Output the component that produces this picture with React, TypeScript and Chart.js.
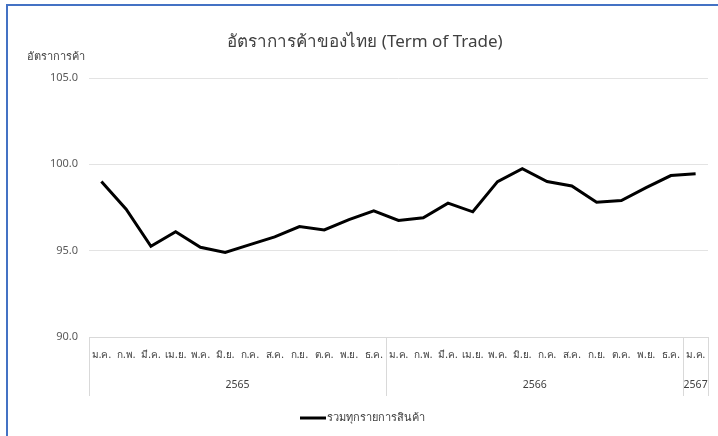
import React, { useEffect, useRef } from "react";
import { Chart, registerables } from "chart.js";

Chart.register(...registerables);

const months = [
  "ม.ค.", "ก.พ.", "มี.ค.", "เม.ย.", "พ.ค.", "มิ.ย.", "ก.ค.", "ส.ค.", "ก.ย.", "ต.ค.", "พ.ย.", "ธ.ค.",
  "ม.ค.", "ก.พ.", "มี.ค.", "เม.ย.", "พ.ค.", "มิ.ย.", "ก.ค.", "ส.ค.", "ก.ย.", "ต.ค.", "พ.ย.", "ธ.ค.",
  "ม.ค.",
];
const years = ["2565", "2566", "2567"];
const yearCounts = [12, 12, 1];
const totOfTrade = [
  99.0, 97.4, 95.25, 96.1, 95.2, 94.9, 95.35, 95.8, 96.4, 96.2, 96.8, 97.3,
  96.75, 96.9, 97.75, 97.25, 99.0, 99.75, 99.0, 98.75, 97.8, 97.9, 98.65, 99.35, 99.45,
];
const seriesName = "รวมทุกรายการสินค้า";
const titleText = "อัตราการค้าของไทย (Term of Trade)";
const yAxisTitle = "อัตราการค้า";
const yMin = 90;
const yMax = 105;
const yStep = 5;

const FONT = "Tahoma, 'Noto Sans', 'DejaVu Sans', sans-serif";

const decorPlugin = {
  id: "decor",
  beforeDraw(chart: any) {
    const ctx = chart.ctx;
    ctx.save();
    ctx.fillStyle = "#ffffff";
    ctx.fillRect(0, 0, chart.width, chart.height);
    ctx.restore();
  },
  afterDraw(chart: any) {
    const ctx = chart.ctx;
    const area = chart.chartArea;
    const xs = chart.scales.x;
    ctx.save();
    // outer frame (left + top)
    ctx.strokeStyle = "#4472C4";
    ctx.lineWidth = 2;
    ctx.beginPath();
    ctx.moveTo(7, chart.height);
    ctx.lineTo(7, 5);
    ctx.lineTo(chart.width, 5);
    ctx.stroke();

    // title
    ctx.fillStyle = "#404040";
    ctx.font = `17px ${FONT}`;
    ctx.textAlign = "center";
    ctx.textBaseline = "middle";
    ctx.fillText(titleText, 365, 42);

    // y axis title
    ctx.font = `11px ${FONT}`;
    ctx.textAlign = "left";
    ctx.fillStyle = "#404040";
    ctx.fillText(yAxisTitle, 27, 57);

    // group separators and year labels
    ctx.strokeStyle = "#d9d9d9";
    ctx.lineWidth = 1;
    const top = area.bottom;
    const bottom = area.bottom + 59;
    const bounds: number[] = [area.left];
    let idx = 0;
    for (let g = 0; g < yearCounts.length; g++) {
      idx += yearCounts[g];
      if (g < yearCounts.length - 1) {
        bounds.push((xs.getPixelForValue(idx - 1) + xs.getPixelForValue(idx)) / 2);
      } else {
        bounds.push(area.right);
      }
    }
    for (const b of bounds) {
      const bx = Math.round(b) + 0.5;
      ctx.beginPath();
      ctx.moveTo(bx, top);
      ctx.lineTo(bx, bottom);
      ctx.stroke();
    }
    ctx.fillStyle = "#404040";
    ctx.font = `10.5px ${FONT}`;
    ctx.textAlign = "center";
    for (let g = 0; g < years.length; g++) {
      ctx.fillText(years[g], (bounds[g] + bounds[g + 1]) / 2, area.bottom + 48);
    }

    // legend
    const lx = 300;
    const ly = 418;
    ctx.strokeStyle = "#000000";
    ctx.lineWidth = 3;
    ctx.beginPath();
    ctx.moveTo(lx, ly);
    ctx.lineTo(lx + 26, ly);
    ctx.stroke();
    ctx.fillStyle = "#404040";
    ctx.font = `11px ${FONT}`;
    ctx.textAlign = "left";
    ctx.fillText(chart.data.datasets[0].label, lx + 27, ly);
    ctx.restore();
  },
};

export default function App() {
  const ref = useRef<HTMLCanvasElement | null>(null);
  useEffect(() => {
    document.body.style.margin = "0";
    const canvas = ref.current;
    if (!canvas) return;
    const chart = new Chart(canvas, {
      type: "line",
      data: {
        labels: months,
        datasets: [
          {
            label: seriesName,
            data: totOfTrade,
            borderColor: "#000000",
            backgroundColor: "#000000",
            borderWidth: 3,
            pointRadius: 0,
            tension: 0,
          },
        ],
      },
      options: {
        animation: false,
        responsive: false,
        maintainAspectRatio: false,
        layout: { padding: { left: 0, right: 10, top: 78, bottom: 39 } },
        plugins: {
          legend: { display: false },
          title: { display: false },
          tooltip: { enabled: false },
        },
        scales: {
          x: {
            type: "category",
            offset: true,
            grid: { display: false, drawTicks: false },
            border: { display: true, color: "#d9d9d9", width: 1 },
            ticks: {
              autoSkip: false,
              maxRotation: 0,
              minRotation: 0,
              padding: 12,
              color: "#404040",
              font: { family: FONT, size: 10 },
            },
            afterFit(scale: any) {
              scale.height = 60;
            },
          },
          y: {
            min: yMin,
            max: yMax,
            grid: { color: "#e3e3e3", drawTicks: false },
            border: { display: false },
            ticks: {
              stepSize: yStep,
              padding: 11,
              color: "#595959",
              font: { family: FONT, size: 11 },
              callback: (v: any) => Number(v).toFixed(1),
            },
            afterFit(scale: any) {
              scale.width = 89;
            },
          },
        },
      },
      plugins: [decorPlugin],
    });
    return () => chart.destroy();
  }, []);
  return (
    <div style={{ position: "absolute", left: 0, top: 0, width: 718, height: 436 }}>
      <canvas ref={ref} width={718} height={436} style={{ display: "block", width: 718, height: 436 }} />
    </div>
  );
}
